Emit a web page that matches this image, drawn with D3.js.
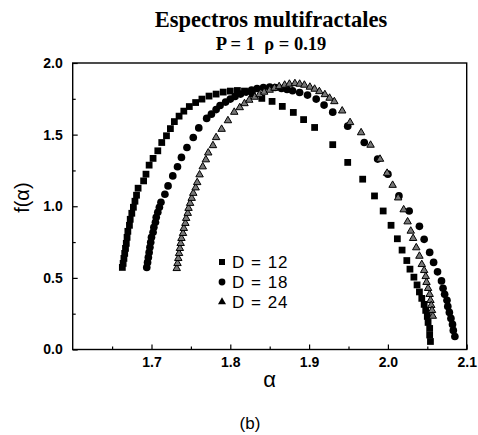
<!DOCTYPE html>
<html>
<head>
<meta charset="utf-8">
<script src="https://cdn.jsdelivr.net/npm/d3@7"></script>
<style>
  html, body { margin: 0; padding: 0; background: #fff; }
  svg { display: block; }
</style>
</head>
<body>
<svg id="chart" width="478" height="435"></svg>
<script>
// ---- data ----
const titleText = "Espectros multifractales";
const subtitleText = "P = 1  \u03C1 = 0.19";
const alphaTicks = [1.7, 1.8, 1.9, 2.0, 2.1];
const alphaMinor = [1.65, 1.75, 1.85, 1.95, 2.05];
const fTicks = [0.0, 0.5, 1.0, 1.5, 2.0];
const fMinor = [0.25, 0.75, 1.25, 1.75];
const seriesLabels = ["D = 12", "D = 18", "D = 24"];

const alpha12 = [1.663,1.664,1.665,1.666,1.667,1.668,1.669,1.670,1.672,1.673,1.675,1.677,1.679,1.681,1.683,1.690,1.693,1.697,1.702,1.708,1.713,1.719,1.724,1.729,1.735,1.741,1.748,1.756,1.764,1.773,1.782,1.791,1.800,1.809,1.818,1.828,1.840,1.853,1.866,1.880,1.893,1.907,1.930,1.949,1.968,1.983,1.994,2.004,2.012,2.018,2.024,2.028,2.033,2.037,2.040,2.043,2.046,2.048,2.050,2.051,2.053,2.053,2.054];
const f12 = [0.573,0.601,0.636,0.671,0.706,0.741,0.783,0.825,0.867,0.909,0.951,0.993,1.035,1.077,1.126,1.177,1.224,1.287,1.334,1.387,1.445,1.492,1.542,1.591,1.629,1.664,1.696,1.724,1.748,1.769,1.783,1.797,1.804,1.808,1.804,1.783,1.753,1.732,1.697,1.655,1.605,1.550,1.430,1.306,1.189,1.072,0.967,0.867,0.773,0.694,0.621,0.561,0.505,0.451,0.402,0.357,0.315,0.273,0.231,0.189,0.147,0.101,0.056];

const alpha18 = [1.694,1.695,1.696,1.697,1.698,1.699,1.700,1.702,1.703,1.705,1.706,1.708,1.710,1.712,1.717,1.721,1.727,1.733,1.738,1.745,1.753,1.760,1.770,1.776,1.782,1.787,1.794,1.800,1.806,1.813,1.820,1.827,1.834,1.842,1.850,1.857,1.865,1.872,1.879,1.888,1.898,1.909,1.919,1.930,1.949,1.970,1.987,2.000,2.014,2.027,2.040,2.046,2.053,2.058,2.063,2.068,2.070,2.072,2.075,2.076,2.078,2.080,2.082,2.083,2.085];
const f18 = [0.573,0.608,0.643,0.678,0.713,0.748,0.783,0.818,0.853,0.888,0.923,0.958,0.993,1.028,1.084,1.142,1.212,1.276,1.341,1.410,1.480,1.547,1.613,1.643,1.675,1.703,1.727,1.748,1.766,1.783,1.797,1.811,1.822,1.829,1.832,1.829,1.822,1.815,1.806,1.794,1.776,1.748,1.706,1.657,1.559,1.445,1.329,1.224,1.072,0.967,0.860,0.769,0.678,0.608,0.542,0.479,0.427,0.385,0.343,0.301,0.259,0.217,0.175,0.133,0.091];

const alpha24 = [1.732,1.733,1.734,1.735,1.736,1.737,1.738,1.740,1.741,1.743,1.744,1.746,1.747,1.749,1.751,1.753,1.756,1.758,1.761,1.765,1.769,1.772,1.778,1.782,1.789,1.797,1.805,1.812,1.818,1.824,1.831,1.837,1.843,1.850,1.856,1.862,1.869,1.875,1.882,1.888,1.894,1.901,1.907,1.913,1.920,1.926,1.932,1.942,1.952,1.966,1.978,1.990,1.999,2.006,2.013,2.020,2.025,2.029,2.032,2.036,2.040,2.043,2.046,2.048,2.049,2.051,2.053,2.054,2.055,2.056,2.057];
const f24 = [0.566,0.601,0.636,0.671,0.706,0.741,0.776,0.811,0.846,0.881,0.916,0.951,0.986,1.021,1.056,1.091,1.129,1.166,1.220,1.276,1.325,1.373,1.424,1.480,1.538,1.598,1.657,1.689,1.717,1.741,1.762,1.780,1.797,1.811,1.825,1.836,1.846,1.853,1.857,1.853,1.846,1.832,1.818,1.801,1.780,1.755,1.731,1.666,1.585,1.514,1.427,1.329,1.231,1.147,1.059,0.976,0.892,0.827,0.776,0.711,0.652,0.594,0.552,0.510,0.469,0.427,0.385,0.343,0.308,0.273,0.233];

// ---- drawing ----
const svg = d3.select("#chart");
svg.append("rect").attr("width", 478).attr("height", 435).attr("fill", "#fff");

const x = d3.scaleLinear().domain([1.6, 2.1]).range([72.7, 466.7]);
const y = d3.scaleLinear().domain([0, 2]).range([349.5, 63]);

const sans = "'Liberation Sans', Arial, Helvetica, sans-serif";
const serif = "'Liberation Serif', 'Times New Roman', serif";

// titles
svg.append("text").attr("x", 271).attr("y", 27).attr("text-anchor", "middle")
  .attr("font-family", serif).attr("font-weight", "bold").attr("font-size", 22.5)
  .text(titleText);
svg.append("text").attr("x", 271).attr("y", 50).attr("text-anchor", "middle")
  .attr("font-family", serif).attr("font-weight", "bold").attr("font-size", 18.5)
  .style("white-space", "pre").text(subtitleText);

// axes
function styleAxis(g) {
  g.select(".domain").remove();
  g.selectAll(".tick line").attr("stroke", "#000").attr("stroke-width", 1.2);
  g.selectAll(".tick text").attr("font-family", sans).attr("font-weight", "bold")
    .attr("font-size", 14).attr("fill", "#000");
}
svg.append("g").attr("transform", `translate(0,${y(0)})`)
  .call(d3.axisBottom(x).tickValues(alphaTicks).tickSize(-5).tickPadding(8).tickFormat(d3.format(".1f")))
  .call(styleAxis);
svg.append("g").attr("transform", `translate(0,${y(0)})`)
  .call(d3.axisBottom(x).tickValues(alphaMinor).tickSize(-3).tickFormat(""))
  .call(styleAxis);
svg.append("g").attr("transform", `translate(${x(1.6)},0)`)
  .call(d3.axisLeft(y).tickValues(fTicks).tickSize(-5).tickPadding(10).tickFormat(d3.format(".1f")))
  .call(styleAxis);
svg.append("g").attr("transform", `translate(${x(1.6)},0)`)
  .call(d3.axisLeft(y).tickValues(fMinor).tickSize(-3).tickFormat(""))
  .call(styleAxis);

// frame
svg.append("rect").attr("x", x(1.6)).attr("y", y(2)).attr("width", x(2.1) - x(1.6))
  .attr("height", y(0) - y(2)).attr("fill", "none").attr("stroke", "#000").attr("stroke-width", 1.4);

// axis titles
svg.append("text").attr("x", x(1.85)).attr("y", 387).attr("text-anchor", "middle")
  .attr("font-family", sans).attr("font-size", 22).text("\u03B1");
svg.append("text").attr("transform", `translate(29,${y(1.06)}) rotate(-90)`).attr("text-anchor", "middle")
  .attr("font-family", sans).attr("font-size", 20).text("f(\u03B1)");
svg.append("text").attr("x", 250).attr("y", 429).attr("text-anchor", "middle")
  .attr("font-family", sans).attr("font-size", 17).text("(b)");

// series
const series = [
  { a: alpha12, f: f12, sym: d3.symbolSquare, size: 46, fill: "#000", stroke: "none" },
  { a: alpha18, f: f18, sym: d3.symbolCircle, size: 46, fill: "#000", stroke: "none" },
  { a: alpha24, f: f24, sym: d3.symbolTriangle, size: 24, fill: "#777", stroke: "#000" }
];
series.forEach((s, i) => {
  const pts = d3.zip(s.a, s.f);
  svg.append("g").selectAll("path").data(pts).join("path")
    .attr("transform", d => `translate(${x(d[0])},${y(d[1])})`)
    .attr("d", d3.symbol().type(s.sym).size(s.size))
    .attr("fill", s.fill).attr("stroke", s.stroke).attr("stroke-width", 1);
});

// legend
const legendY = [262, 282, 302];
series.forEach((s, i) => {
  svg.append("path").attr("transform", `translate(222,${legendY[i]})`)
    .attr("d", d3.symbol().type(s.sym).size(i === 2 ? 28 : 36))
    .attr("fill", "#000");
  svg.append("text").attr("x", 232).attr("y", legendY[i] + 6)
    .attr("font-family", sans).attr("font-size", 17).attr("letter-spacing", 1)
    .style("white-space", "pre").text(seriesLabels[i]);
});
</script>
</body>
</html>
